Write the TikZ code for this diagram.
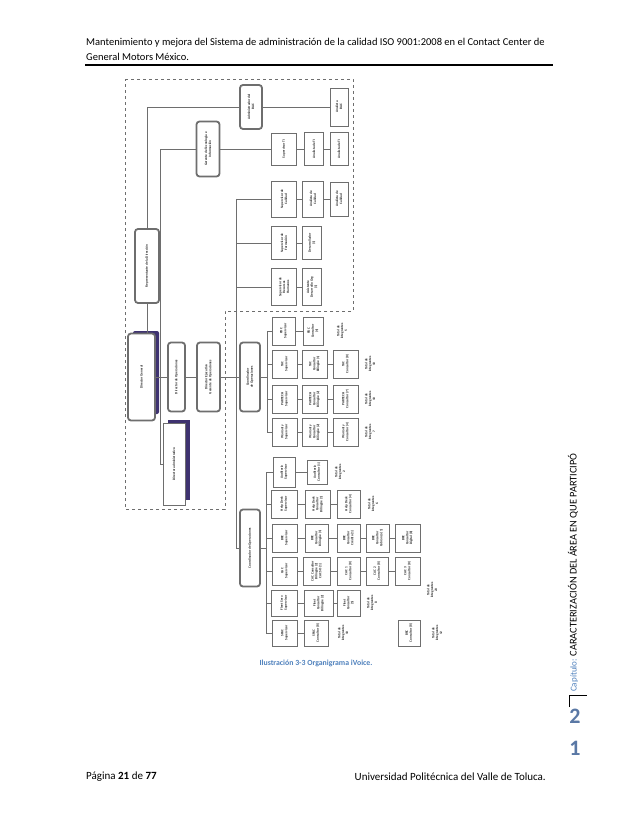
\documentclass[tikz,border=0pt]{standalone}
\usepackage{fontspec}
\setmainfont{Carlito}
\usetikzlibrary{backgrounds}
\definecolor{capblue}{RGB}{79,129,189}
\definecolor{numblue}{RGB}{90,120,165}
\definecolor{chartgray}{RGB}{110,110,110}
\definecolor{shadowviolet}{RGB}{62,50,112}

\begin{document}
\begin{tikzpicture}[x=1pt,y=-1pt,
  unit/.style={draw=chartgray, line width=0.8pt, fill=white, rotate=90, align=center,
    inner sep=0.5pt, font=\fontsize{3.4}{3.9}\selectfont\bfseries, text=black!85},
  head/.style={unit, rounded corners=3pt, line width=1.8pt},
  dims/.style 2 args={minimum height=#1pt, minimum width=#2pt},
  total/.style={rotate=90, align=center, inner sep=0pt,
    font=\fontsize{3.4}{3.9}\selectfont\bfseries, text=black!85},
  link/.style={draw=chartgray, line width=0.8pt},
  pagetext/.style={inner sep=0pt, font=\fontsize{10.5}{12}\selectfont}]

% Header
\node[pagetext, anchor=west] (headA) at (86,43) {Mantenimiento y mejora del Sistema de administración de la calidad ISO 9001:2008 en el Contact Center de};
\node[pagetext, anchor=west] (headB) at (86,57) {General Motors México.};
\coordinate (ruleL) at (85,65);
\coordinate (ruleR) at (553,65);
\draw[line width=2pt] (ruleL) -- (ruleR);

% Staff of the direction
\node[head, dims={22}{44}] (adm) at (251,107) {Administrador del\\BAC};
\node[unit, dims={18}{38}] (bac) at (339,107) {Analista\\BAC};
\node[head, dims={23}{55}] (gti) at (208,149) {Gerente de Tecnología e\\Información};
\node[unit, dims={25}{32}] (supti) at (284,149) {Supervisor TI};
\node[unit, dims={19}{33}] (anti1) at (314,149) {Analista de TI};
\node[unit, dims={18}{33}] (anti2) at (339,149) {Analista de TI};
\node[unit, dims={25}{36}] (supcal) at (284,199) {Supervisor de\\Calidad};
\node[unit, dims={21}{36}] (ancal1) at (313,199) {Analista de\\Calidad};
\node[unit, dims={18}{34}] (ancal2) at (339,199) {Analista de\\Calidad};
\node[unit, dims={25}{33}] (supfor) at (284,243) {Supervisor de\\Formación};
\node[unit, dims={19}{33}] (desa) at (312,243) {Desarrollador\\(1)};
\node[unit, dims={25}{37}] (suprh) at (284,287) {Supervisor de\\Recursos\\Humanos};
\node[unit, dims={19}{37}] (asis) at (312,287) {Asistente\\Desarrollo Org\\(1)};

% Direction
\node[head, dims={24}{74}] (rep) at (147,266) {Representante de la Dirección};
\node[head, dims={27}{87}] (dg) at (141.5,377) {Director General};
\node[unit, dims={22}{82}] (dad) at (174,464) {Director administrativo};
\node[head, dims={17}{69}] (dops) at (176.5,377) {Director de Operaciones};
\node[head, dims={23}{69}] (dej) at (208.5,377) {Director Ejecutivo\\Gerente de Operaciones};
\node[head, dims={20}{69}] (coa) at (250,377) {Coordinador\\de Operaciones};
\node[head, dims={20}{77}] (cob) at (250,548) {Coordinador de Operaciones};

% Upper operations group
\node[unit, dims={23}{28}] (pdcs) at (283.5,331) {PDC\\Supervisor};
\node[unit, dims={20}{28}] (pdcc) at (313,331) {PDC\\Consultor\\(4)};
\node[total] (pdct) at (342,331) {Total de\\integrantes\\5};
\node[unit, dims={25}{28}] (tacs) at (284.5,364) {TAC\\Supervisor};
\node[unit, dims={25}{28}] (tacb) at (314.5,364) {TAC\\Consultor\\Bilingüe (1)};
\node[unit, dims={25}{28}] (tacc) at (345.5,364) {TAC\\Consultor (8)};
\node[total] (tact) at (370,364) {Total de\\integrantes\\10};
\node[unit, dims={25}{28}] (pars) at (284.5,399) {PARTECH\\Supervisor};
\node[unit, dims={25}{28}] (parb) at (314.5,399) {PARTECH\\Consultor\\Bilingüe (2)};
\node[unit, dims={25}{28}] (parc) at (345.5,399) {PARTECH\\Consultor (7)};
\node[total] (part) at (370,399) {Total de\\integrantes\\10};
\node[unit, dims={25}{28}] (wars) at (284.5,432) {Warranty\\Supervisor};
\node[unit, dims={25}{28}] (warb) at (314.5,432) {Warranty\\Consultor\\Bilingüe (2)};
\node[unit, dims={25}{28}] (warc) at (345.5,432) {Warranty\\Consultor (4)};
\node[total] (wart) at (370,432) {Total de\\integrantes\\7};

% Lower operations group
\node[unit, dims={22}{30}] (auds) at (284,472) {Auditoría\\Supervisor};
\node[unit, dims={20}{24}] (audc) at (317,472) {Auditoría\\Consultor (1)};
\node[total] (audt) at (340,472) {Total de\\integrantes\\2};
\node[unit, dims={26}{28}] (hds) at (284,504) {Help Desk\\Supervisor};
\node[unit, dims={25}{28}] (hdb) at (317.5,504) {Help Desk\\Consultor\\Bilingüe (1)};
\node[unit, dims={23}{28}] (hdc) at (348.5,504) {Help Desk\\Consultor (4)};
\node[total] (hdt) at (373,504) {Total de\\integrantes\\6};
\node[unit, dims={25}{28}] (brcs) at (284.5,538) {BRC\\Supervisor};
\node[unit, dims={23}{28}] (brcb) at (316.5,538) {BRC\\Consultor\\Bilingüe (1)};
\node[unit, dims={23}{28}] (brc1) at (348.5,538) {BRC\\Consultor\\Crédito (1)};
\node[unit, dims={23}{28}] (brc2) at (377.5,538) {BRC\\Consultor\\Cobranza (1)};
\node[unit, dims={25}{28}] (brc3) at (407.5,538) {BRC\\Consultor\\Digital (8)};
\node[unit, dims={25}{28}] (cacs) at (284.5,571) {CAC\\Supervisor};
\node[unit, dims={27}{28}] (cacb) at (316.5,571) {CAC Consultor\\Bilingüe (2)\\CAC SO (1)};
\node[unit, dims={23}{28}] (cac1) at (348.5,571) {CAC 1\\Consultor (8)};
\node[unit, dims={22}{28}] (cac2) at (377,571) {CAC 2\\Consultor (8)};
\node[unit, dims={25}{28}] (cac3) at (407.5,571) {CAC 3\\Consultor (8)};
\node[total] (cact) at (432,590) {Total de\\integrantes\\23};
\node[unit, dims={26}{26}] (flts) at (284,603) {Fleet Serv.\\Supervisor};
\node[unit, dims={29}{26}] (fltb) at (318.5,603) {Fleet\\Consultor\\Bilingüe (2)};
\node[unit, dims={23}{26}] (fltc) at (348.5,603) {Fleet\\Consultor\\(5)};
\node[total] (fltt) at (372,603) {Total de\\integrantes\\8};
\node[unit, dims={25}{26}] (spas) at (284.5,633) {SPAC\\Supervisor};
\node[unit, dims={24}{26}] (spac) at (316,633) {SPAC\\Consultor (8)};
\node[total] (spat) at (343,633) {Total de\\integrantes\\10};
\node[unit, dims={22}{26}] (brc4) at (409,633) {BRC\\Consultor (8)};
\node[total] (brct) at (437,633) {Total de\\integrantes\\12};

% Caption
\node[inner sep=0pt, font=\fontsize{7.8}{9}\selectfont\bfseries, text=capblue] (caption) at (316,663) {Ilustración 3-3 Organigrama iVoice.};

% Side bar
\node[rotate=90, anchor=west, inner sep=0pt, font=\fontsize{9}{10}\selectfont] (chapter) at (573,692)
  {\textcolor{capblue}{Capítulo:} {\fontsize{10.3}{11}\selectfont CARACTERIZACIÓN DEL ÁREA EN QUE PARTICIPÓ}};
\coordinate (sepA) at (569,707);
\coordinate (sepB) at (569,695);
\coordinate (sepC) at (587,695);
\draw[line width=0.6pt] (sepA) -- (sepB) -- (sepC);
\node[inner sep=0pt, font=\fontsize{22}{22}\selectfont\bfseries, text=numblue] (pagetens) at (575,716) {2};
\node[inner sep=0pt, font=\fontsize{22}{22}\selectfont\bfseries, text=numblue] (pageunits) at (575,748) {1};

% Footer
\node[pagetext, anchor=west, font=\fontsize{11}{13}\selectfont] (pageinfo) at (86,777) {Página \textbf{21} de \textbf{77}};
\node[pagetext, anchor=east, font=\fontsize{11}{13}\selectfont] (univ) at (546,777) {Universidad Politécnica del Valle de Toluca.};

\begin{scope}[on background layer]
\fill[white] (0,0) rectangle (638,826);
% dashed area of the direction
\draw[chartgray, dashed, line width=0.6pt] (125,79) -- (353,79) -- (353,311) -- (225,311)
  -- (225,509) -- (125,509) -- cycle;
% shadows
\fill[shadowviolet, rounded corners=2pt] (133,331) rectangle (159,414);
\fill[shadowviolet] (168,420) rectangle (190,500);
% links
\coordinate (admturn) at (147,107);
\coordinate (gtiturn) at (160,149);
\coordinate (trunktop) at (236,199);
\coordinate (trunkbot) at (236,548);
\coordinate (uppertop) at (267,331);
\coordinate (upperbot) at (267,432);
\coordinate (lowertop) at (266,472);
\coordinate (lowerbot) at (266,633);
\draw[link] (bac) -- (adm) -- (admturn) -- (rep);
\draw[link] (rep) -- (rep |- dg);
\draw[link] (anti2) -- (anti1) -- (supti) -- (gti) -- (gtiturn) -- (gtiturn |- dad) -- (dad);
\draw[link] (dg) -- (coa);
\draw[link] (trunktop) -- (trunkbot) -- (cob);
\draw[link] (trunktop) -- (supcal) -- (ancal1) -- (ancal2);
\draw[link] (supfor -| trunktop) -- (supfor) -- (desa);
\draw[link] (suprh -| trunktop) -- (suprh) -- (asis);
\draw[link] (coa) -- (coa -| uppertop);
\draw[link] (uppertop) -- (upperbot);
\draw[link] (pdcs -| uppertop) -- (pdcs) -- (pdcc);
\draw[link] (tacs -| uppertop) -- (tacs) -- (tacb) -- (tacc);
\draw[link] (pars -| uppertop) -- (pars) -- (parb) -- (parc);
\draw[link] (wars -| uppertop) -- (wars) -- (warb) -- (warc);
\draw[link] (cob) -- (cob -| lowertop);
\draw[link] (lowertop) -- (lowerbot);
\draw[link] (auds -| lowertop) -- (auds) -- (audc);
\draw[link] (hds -| lowertop) -- (hds) -- (hdb) -- (hdc);
\draw[link] (brcs -| lowertop) -- (brcs) -- (brcb) -- (brc1) -- (brc2) -- (brc3);
\draw[link] (cacs -| lowertop) -- (cacs) -- (cacb) -- (cac1) -- (cac2) -- (cac3);
\draw[link] (flts -| lowertop) -- (flts) -- (fltb) -- (fltc);
\draw[link] (spas -| lowertop) -- (spas) -- (spac);
\end{scope}
\end{tikzpicture}
\end{document}
